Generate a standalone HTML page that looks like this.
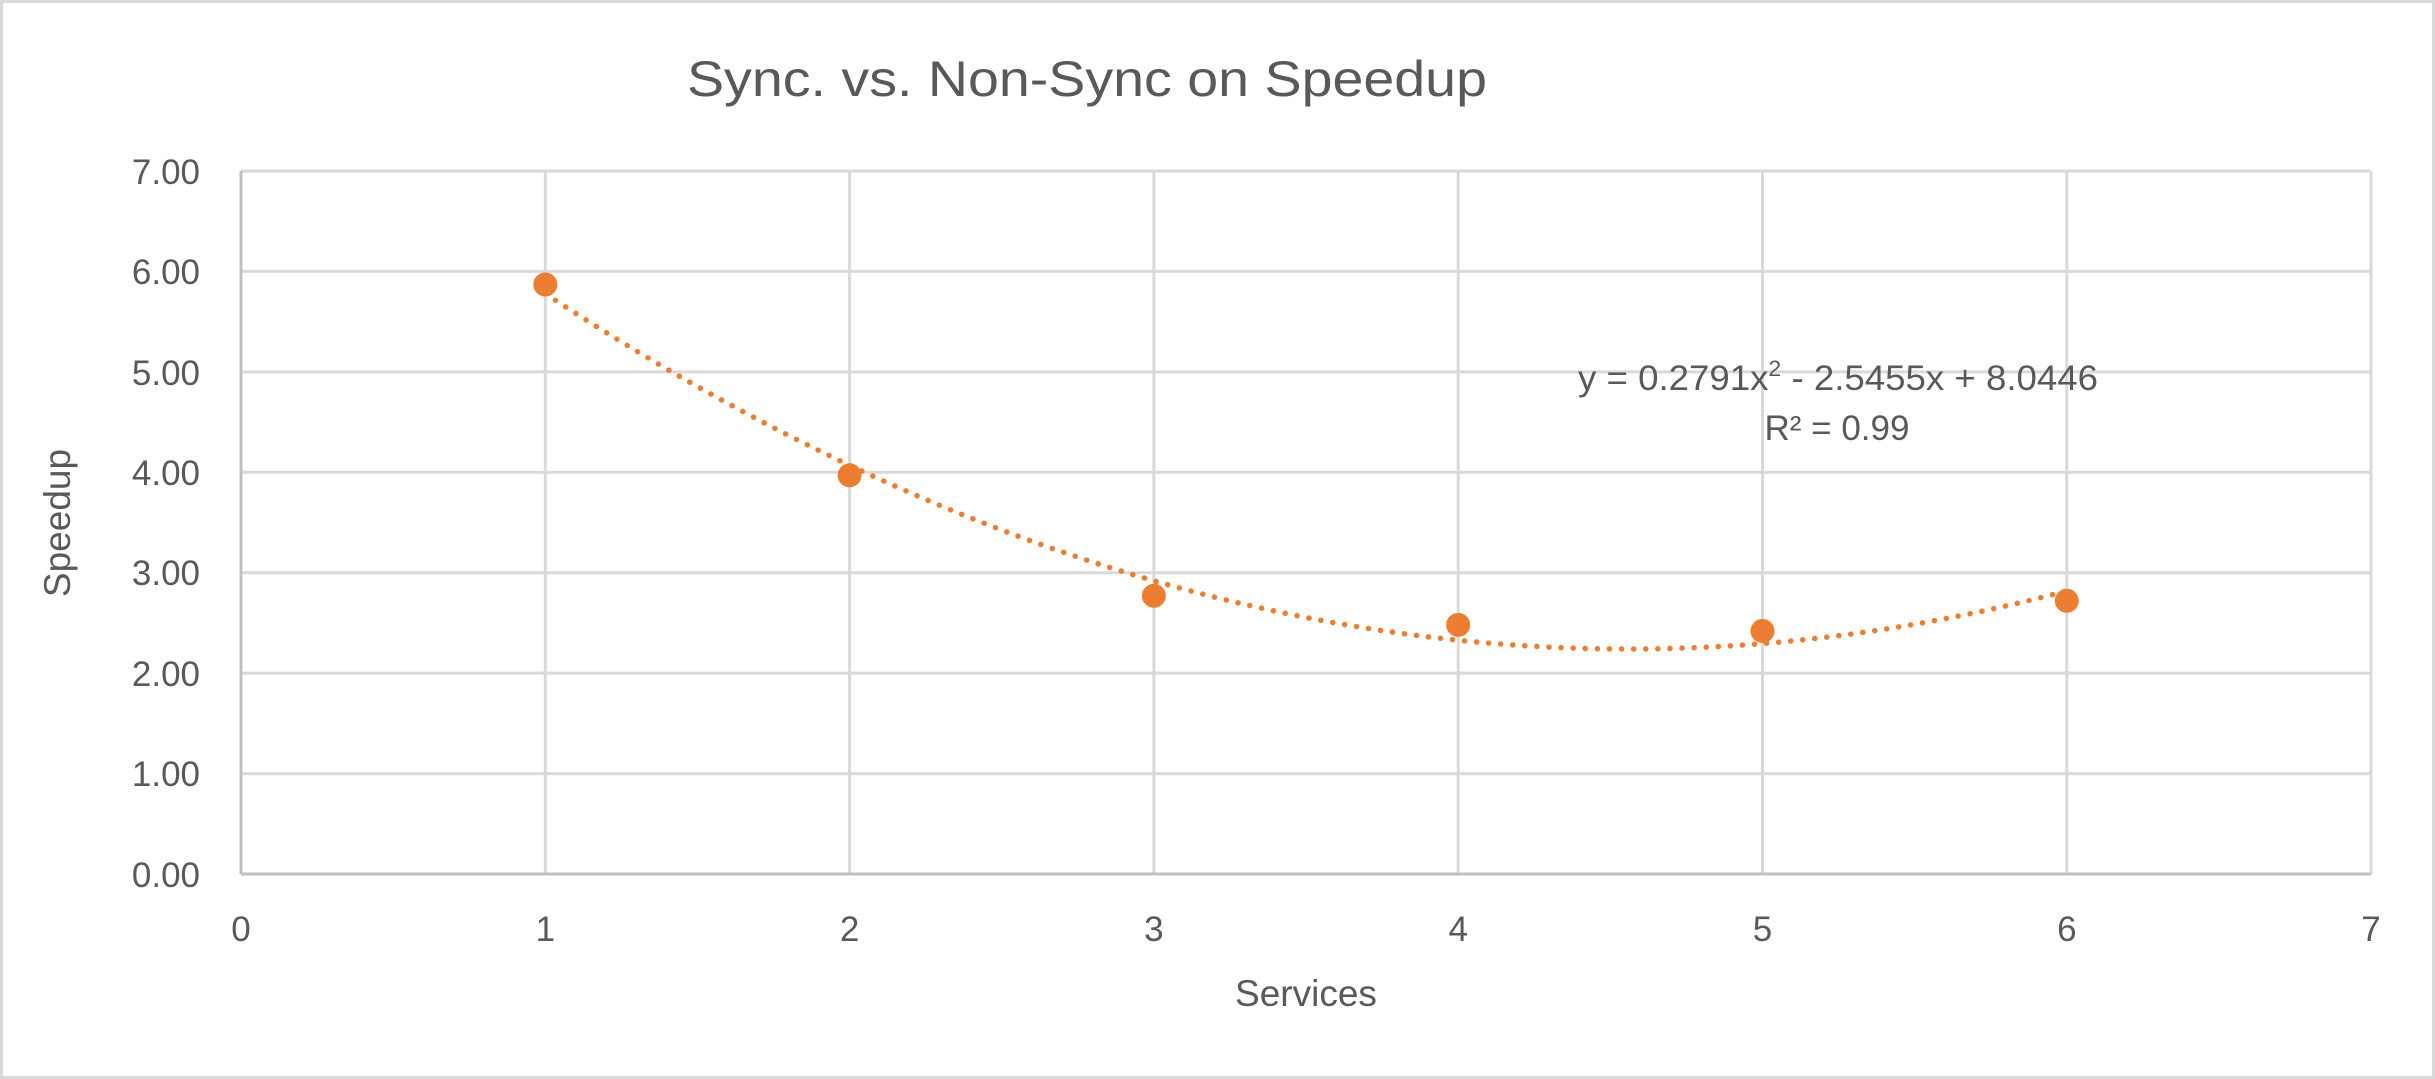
<!DOCTYPE html>
<html><head><meta charset="utf-8"><style>
html,body{margin:0;padding:0;background:#fff}
svg{display:block}
text{font-family:"Liberation Sans",sans-serif;fill:#595959}
</style></head><body>
<svg width="2435" height="1079" viewBox="0 0 2435 1079" xmlns="http://www.w3.org/2000/svg">
<rect x="1.5" y="1.5" width="2432" height="1076" fill="#fff" stroke="#d9d9d9" stroke-width="3"/>
<text x="1087" y="96" font-size="50" text-anchor="middle" textLength="800" lengthAdjust="spacingAndGlyphs">Sync. vs. Non-Sync on Speedup</text>
<g stroke="#d9d9d9" stroke-width="3">
<line x1="241" y1="171" x2="2371" y2="171"/>
<line x1="241" y1="271.4" x2="2371" y2="271.4"/>
<line x1="241" y1="371.9" x2="2371" y2="371.9"/>
<line x1="241" y1="472.3" x2="2371" y2="472.3"/>
<line x1="241" y1="572.7" x2="2371" y2="572.7"/>
<line x1="241" y1="673.1" x2="2371" y2="673.1"/>
<line x1="241" y1="773.6" x2="2371" y2="773.6"/>
<line x1="545.3" y1="171" x2="545.3" y2="874"/>
<line x1="849.6" y1="171" x2="849.6" y2="874"/>
<line x1="1153.9" y1="171" x2="1153.9" y2="874"/>
<line x1="1458.2" y1="171" x2="1458.2" y2="874"/>
<line x1="1762.5" y1="171" x2="1762.5" y2="874"/>
<line x1="2066.8" y1="171" x2="2066.8" y2="874"/>
<line x1="2371" y1="171" x2="2371" y2="874"/>
</g>
<g stroke="#bfbfbf" stroke-width="3">
<line x1="241" y1="171" x2="241" y2="874"/>
<line x1="241" y1="874" x2="2371" y2="874"/>
</g>
<g font-size="35" text-anchor="end">
<text x="200" y="184">7.00</text>
<text x="200" y="284">6.00</text>
<text x="200" y="385">5.00</text>
<text x="200" y="485">4.00</text>
<text x="200" y="585">3.00</text>
<text x="200" y="686">2.00</text>
<text x="200" y="786">1.00</text>
<text x="200" y="887">0.00</text>
</g>
<g font-size="35" text-anchor="middle">
<text x="241" y="941">0</text>
<text x="545.3" y="941">1</text>
<text x="849.6" y="941">2</text>
<text x="1153.9" y="941">3</text>
<text x="1458.2" y="941">4</text>
<text x="1762.5" y="941">5</text>
<text x="2066.8" y="941">6</text>
<text x="2371" y="941">7</text>
</g>
<text x="1306" y="1006" font-size="37" text-anchor="middle">Services</text>
<text transform="translate(70,523) rotate(-90)" font-size="37" text-anchor="middle">Speedup</text>
<path d="M545.3,293.7 Q1306,792.7 2066.8,590.9" fill="none" stroke="#ed7d31" stroke-width="5.5" stroke-linecap="round" stroke-dasharray="0.1 12"/>
<g fill="#ed7d31">
<circle cx="545.3" cy="284.5" r="12"/>
<circle cx="849.6" cy="475.3" r="12"/>
<circle cx="1153.9" cy="595.8" r="12"/>
<circle cx="1458.2" cy="624.9" r="12"/>
<circle cx="1762.5" cy="631" r="12"/>
<circle cx="2066.8" cy="600.8" r="12"/>
</g>
<text x="1838" y="390" font-size="35" text-anchor="middle" textLength="520" lengthAdjust="spacingAndGlyphs">y = 0.2791x<tspan font-size="22" dy="-14">2</tspan><tspan dy="14"> - 2.5455x + 8.0446</tspan></text>
<text x="1837" y="440" font-size="35" text-anchor="middle">R² = 0.99</text>
</svg>
</body></html>
